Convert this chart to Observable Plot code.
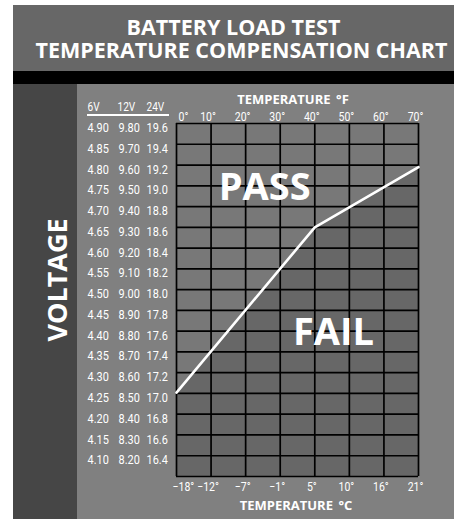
<!DOCTYPE html>
<html><head><meta charset="utf-8">
<script src="https://cdn.jsdelivr.net/npm/d3@7"></script>
<script src="https://cdn.jsdelivr.net/npm/@observablehq/plot@0.6"></script>
<style>
body{margin:0;background:#fff;}
#c{position:relative;width:454px;height:519px;overflow:hidden;font-family:"Open Sans",sans-serif;}
.bg{position:absolute;}
.t{position:absolute;left:13px;top:15px;width:441px;text-align:center;color:#fff;font-weight:700;font-size:21.5px;line-height:23px;white-space:nowrap;}
#plot{position:absolute;left:0;top:0;}
</style></head><body>
<div id="c">
  <div class="bg" style="left:13px;top:5px;width:441px;height:66px;background:#676767"></div>
  <div class="bg" style="left:13px;top:71px;width:441px;height:13px;background:#000"></div>
  <div class="bg" style="left:13px;top:84px;width:64px;height:435px;background:#464646"></div>
  <div class="bg" style="left:77px;top:84px;width:377px;height:435px;background:#808080"></div>
  <div class="t" id="title">BATTERY LOAD TEST<br><span style="position:relative;left:8px">TEMPERATURE COMPENSATION CHART</span></div>
  <div class="bg" style="left:87px;top:114px;width:82px;height:1.5px;background:#fff"></div>
  <div id="plot"></div>
</div>
<script>
// Temperature axis (°F gridlines) and matching Celsius labels
const fTicks = [0, 10, 20, 30, 40, 50, 60, 70];
const cTicks = ["\u221218°", "\u221212°", "\u22127°", "\u22121°", "5°", "10°", "16°", "21°"];
// Voltage rows (6V / 12V / 24V)
const volt6 = [4.90, 4.85, 4.80, 4.75, 4.70, 4.65, 4.60, 4.55, 4.50, 4.45, 4.40, 4.35, 4.30, 4.25, 4.20, 4.15, 4.10];
const volt12 = ["9.80", "9.70", "9.60", "9.50", "9.40", "9.30", "9.20", "9.10", "9.00", "8.90", "8.80", "8.70", "8.60", "8.50", "8.40", "8.30", "8.20"];
const volt24 = ["19.6", "19.4", "19.2", "19.0", "18.8", "18.6", "18.4", "18.2", "18.0", "17.8", "17.6", "17.4", "17.2", "17.0", "16.8", "16.6", "16.4"];
const voltHeaders = ["6V", "12V", "24V"];
// Pass/fail threshold line (°F, 6V volts)
const lineF = [0, 40, 70];
const lineV = [4.277, 4.675, 4.82];
// Zone labels
const zoneText = ["PASS", "FAIL"];
const zoneF = [25.5, 45.4];
const zoneV = [4.771, 4.422];

const half = 0.025;
const yMin = volt6[volt6.length - 1] - half, yMax = volt6[0] + half;
const rowBounds = [...volt6.map(v => v + half), yMin];
const lineData = lineF.map((f, i) => ({f, v: lineV[i]}));
const zones = zoneText.map((t, i) => ({t, f: zoneF[i], v: zoneV[i]}));

const numFont = "Roboto, sans-serif";
const boldFont = "'Open Sans', sans-serif";
const nar = {className: "narrow", fill: "#fff", fontFamily: numFont};

const chart = Plot.plot({
  width: 454, height: 519,
  marginLeft: 176, marginRight: 36, marginTop: 123, marginBottom: 43,
  x: {domain: [0, 70], axis: null},
  y: {domain: [yMin, yMax], axis: null},
  style: {background: "transparent", overflow: "visible", fontFamily: numFont},
  marks: [
    Plot.frame({fill: "#787878", stroke: "none"}),
    Plot.areaY(lineData, {x: "f", y1: yMin, y2: "v", fill: "#676767"}),
    Plot.ruleX(fTicks, {x: d => d, stroke: "#000", strokeWidth: 1.7}),
    Plot.ruleY(rowBounds, {y: d => d, stroke: "#000", strokeWidth: 1.7}),
    Plot.line(lineData, {x: "f", y: "v", stroke: "#fff", strokeWidth: 2.6}),
    Plot.text(zones, {x: "f", y: "v", text: "t", fill: "#fff", fontSize: 38, fontWeight: 700, fontFamily: boldFont, lineAnchor: "middle"}),
    // voltage columns
    Plot.text(volt6, {...nar, y: d => d, text: d => d.toFixed(2), frameAnchor: "left", textAnchor: "start", dx: -89, dy: -6, fontSize: 13}),
    Plot.text(volt12, {...nar, y: (d, i) => volt6[i], text: d => d, frameAnchor: "left", textAnchor: "start", dx: -58, dy: -6, fontSize: 13}),
    Plot.text(volt24, {...nar, y: (d, i) => volt6[i], text: d => d, frameAnchor: "left", textAnchor: "start", dx: -30, dy: -6, fontSize: 13}),
    Plot.text([voltHeaders[0]], {...nar, text: d => d, frameAnchor: "top-left", textAnchor: "start", lineAnchor: "bottom", dx: -89, dy: -13, fontSize: 12}),
    Plot.text([voltHeaders[1]], {...nar, text: d => d, frameAnchor: "top-left", textAnchor: "start", lineAnchor: "bottom", dx: -59, dy: -13, fontSize: 12}),
    Plot.text([voltHeaders[2]], {...nar, text: d => d, frameAnchor: "top-left", textAnchor: "start", lineAnchor: "bottom", dx: -30, dy: -13, fontSize: 12}),
    // top °F tick labels
    Plot.text(fTicks.slice(0, 1), {...nar, x: d => d, text: d => d + "°", frameAnchor: "top", textAnchor: "start", lineAnchor: "bottom", dx: 2, dy: -3, fontSize: 12.5}),
    Plot.text(fTicks.slice(1), {...nar, x: d => d, text: d => d + "°", frameAnchor: "top", lineAnchor: "bottom", dx: -3, dy: -3, fontSize: 12.5}),
    // bottom °C tick labels
    Plot.text(cTicks.slice(0, 1), {...nar, x: (d, i) => fTicks[i], text: d => d, frameAnchor: "bottom", textAnchor: "start", lineAnchor: "bottom", dx: -4, dy: 14, fontSize: 12.5}),
    Plot.text(cTicks.slice(1), {...nar, x: (d, i) => fTicks[i + 1], text: d => d, frameAnchor: "bottom", lineAnchor: "bottom", dx: -3, dy: 14, fontSize: 12.5}),
    // axis titles
    Plot.text(["TEMPERATURE \u2009°F"], {text: d => d, frameAnchor: "top", textAnchor: "middle", lineAnchor: "bottom", dx: -4.5, dy: -20, fill: "#fff", fontSize: 13, fontWeight: 700, fontFamily: boldFont}),
    Plot.text(["TEMPERATURE \u2009°C"], {text: d => d, frameAnchor: "bottom", textAnchor: "middle", lineAnchor: "bottom", dx: -1.5, dy: 33, fill: "#fff", fontSize: 13, fontWeight: 700, fontFamily: boldFont}),
    Plot.text(["VOLTAGE"], {text: d => d, frameAnchor: "left", textAnchor: "middle", rotate: -90, lineAnchor: "middle", dx: -118, dy: -20, fill: "#fff", fontSize: 27, fontWeight: 700, fontFamily: boldFont})
  ]
});
document.getElementById("plot").appendChild(chart);
// condense the numeric labels (the reference uses a narrow typeface)
d3.select(chart).selectAll(".narrow text").each(function () {
  const w = this.getComputedTextLength();
  this.setAttribute("textLength", (w * 0.84).toFixed(2));
  this.setAttribute("lengthAdjust", "spacingAndGlyphs");
});
</script>
</body></html>
